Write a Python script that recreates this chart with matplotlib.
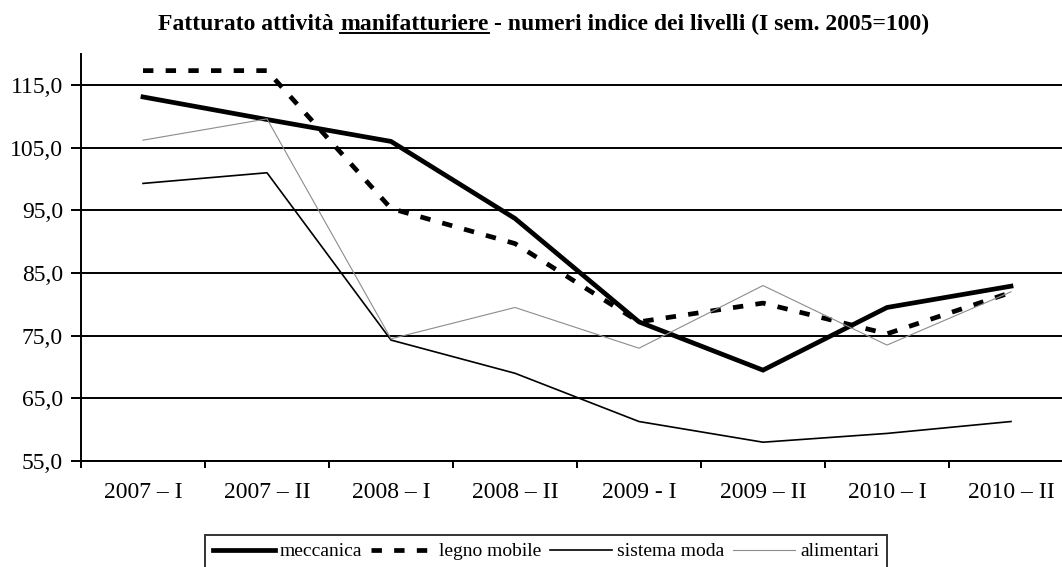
import matplotlib
matplotlib.use("Agg")
import matplotlib.pyplot as plt
from matplotlib.lines import Line2D

categories = ["2007 – I", "2007 – II", "2008 – I", "2008 – II",
              "2009 - I", "2009 – II", "2010 – I", "2010 – II"]
meccanica = [113.1, 109.5, 106.0, 93.7, 77.2, 69.5, 79.5, 82.9]
legno_mobile = [117.3, 117.3, 95.3, 89.7, 77.2, 80.2, 75.3, 81.9]
sistema_moda = [99.3, 101.0, 74.3, 69.0, 61.3, 58.0, 59.4, 61.3]
alimentari = [106.2, 109.6, 74.5, 79.5, 73.0, 83.0, 73.5, 82.0]
yticks = [55, 65, 75, 85, 95, 105, 115]

plt.rcParams["font.family"] = ["Liberation Serif", "DejaVu Serif"]

W, H = 1062, 567
fig = plt.figure(figsize=(W / 100, H / 100), dpi=100)
ax = fig.add_axes([81 / W, (H - 461) / H, 992 / W, (461 - 53.7) / H])

x = list(range(len(categories)))
ax.plot(x, meccanica, color="black", lw=3.4, solid_joinstyle="miter", label="meccanica")
ax.plot(x, legno_mobile, color="black", lw=3.4, dashes=(2.2, 2.6), label="legno mobile")
ax.plot(x, sistema_moda, color="black", lw=1.2, label="sistema moda")
ax.plot(x, alimentari, color="#8c8c8c", lw=0.8, label="alimentari")

ax.set_xlim(-0.5, 7.5)
ax.set_ylim(55, 120)
ax.set_yticks(yticks)
ax.set_yticklabels([f"{v:.1f}".replace(".", ",") for v in yticks], fontsize=17)
ax.set_xticks(x)
ax.set_xticklabels(categories, fontsize=17)
ax.set_xticks([i - 0.5 for i in range(len(categories) + 1)], minor=True)
ax.tick_params(axis="x", which="major", length=0, pad=15)
ax.tick_params(axis="x", which="minor", length=5, width=1.4, direction="out")
ax.tick_params(axis="y", length=7, width=1.4, direction="out", pad=6)
ax.yaxis.grid(True, color="black", lw=1.4)
ax.set_axisbelow(True)
for s in ["top", "right"]:
    ax.spines[s].set_visible(False)
for s in ["left", "bottom"]:
    ax.spines[s].set_linewidth(1.4)

leg = ax.legend(loc="upper left", bbox_to_anchor=(205 / W, 1 - 535 / H),
                bbox_transform=fig.transFigure, ncol=4, fontsize=14,
                frameon=True, fancybox=False, edgecolor="black",
                handlelength=3.2, handletextpad=0.26, columnspacing=0.45,
                borderpad=0.4, borderaxespad=0)
leg.get_frame().set_linewidth(1.4)

# title in three pieces so the middle word can be underlined
parts = ["Fatturato attività", "manifatturiere",
         "- numeri indice dei livelli (I sem. 2005=100)"]
tsize = 17
gap = 0.25 * tsize * 100 / 72
ty = 1 - 30 / H
texts = [fig.text(0, ty, p, fontsize=tsize, fontweight="bold", va="baseline")
         for p in parts]
fig.canvas.draw()
r = fig.canvas.get_renderer()
widths = [t.get_window_extent(r).width for t in texts]
total = sum(widths) + gap * (len(parts) - 1)
xpos = 544 - total / 2
for t, w in zip(texts, widths):
    t.set_x(xpos / W)
    xpos += w + gap
fig.canvas.draw()
bb = texts[1].get_window_extent(r)
fig.add_artist(Line2D([bb.x0 / W, bb.x1 / W], [1 - 33 / H, 1 - 33 / H],
                      transform=fig.transFigure, color="black", lw=1.4))

fig.savefig("out.png", dpi=100)
